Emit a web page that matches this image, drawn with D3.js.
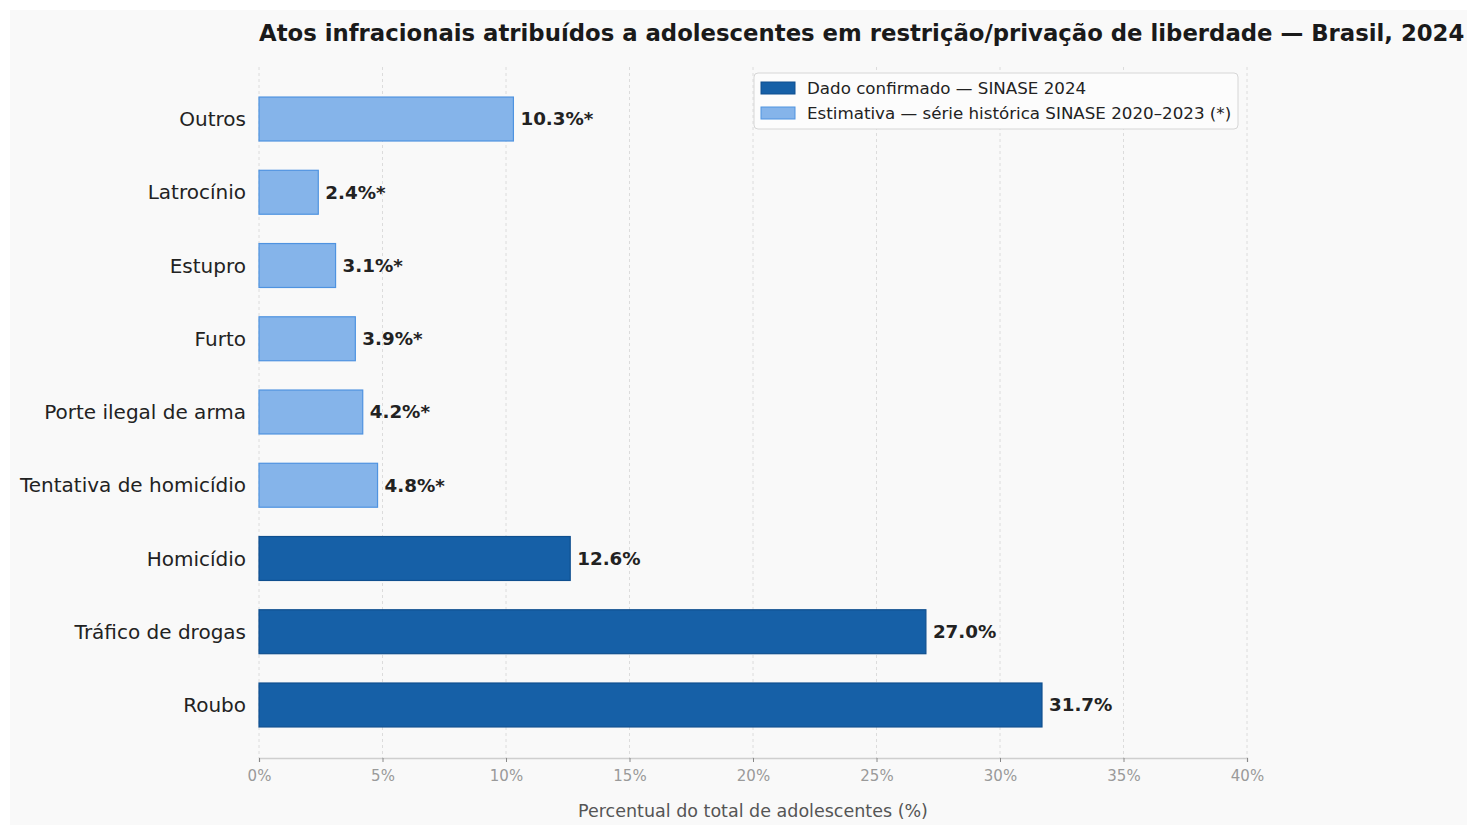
<!DOCTYPE html>
<html><head><meta charset="utf-8">
<script src="https://cdn.jsdelivr.net/npm/d3@7"></script>
<style>
html,body{margin:0;padding:0;background:#fff;}
svg{display:block;font-family:"DejaVu Sans",sans-serif;}
</style></head>
<body><svg id="c" width="1467" height="825"></svg>
<script>
const categories = ["Roubo","Tráfico de drogas","Homicídio","Tentativa de homicídio","Porte ilegal de arma","Furto","Estupro","Latrocínio","Outros"];
const values = [31.7, 27.0, 12.6, 4.8, 4.2, 3.9, 3.1, 2.4, 10.3];
const confirmed = [true, true, true, false, false, false, false, false, false];
const xTicks = [0,5,10,15,20,25,30,35,40];
const title = "Atos infracionais atribuídos a adolescentes em restrição/privação de liberdade — Brasil, 2024";
const xLabel = "Percentual do total de adolescentes (%)";
const legendLabels = ["Dado confirmado — SINASE 2024","Estimativa — série histórica SINASE 2020–2023 (*)"];

const svg = d3.select("#c");
svg.append("rect").attr("x",10).attr("y",10).attr("width",1457).attr("height",815).attr("fill","#f9f9f9");

const x = d3.scaleLinear().domain([0,40]).range([259,1247]);
const y = d3.scaleBand().domain(categories.slice().reverse()).range([82.4,741.6]).paddingInner(0.4).paddingOuter(0.2);
const plotTop = 67, plotBottom = 758;

const colors = {dark:"#1660a7", darkEdge:"#0f4f8f", light:"#85b4ea", lightEdge:"#4f93e0"};

function fit(sel, target){
  const fs = parseFloat(sel.style("font-size"));
  const w = sel.node().getComputedTextLength();
  sel.style("font-size",(fs*target/w).toFixed(2)+"px");
}

// grid
svg.append("g").selectAll("line").data(xTicks).join("line")
  .attr("x1",d=>x(d)).attr("x2",d=>x(d)).attr("y1",plotTop).attr("y2",plotBottom)
  .attr("stroke","#dcdcdc").attr("stroke-width",1).attr("stroke-dasharray","3,3");

// axis
const ax = svg.append("g").attr("transform",`translate(0,${plotBottom})`)
  .call(d3.axisBottom(x).tickValues(xTicks).tickFormat(d=>d+"%").tickSize(4).tickPadding(8));
ax.select(".domain").attr("stroke","#cfcfcf").attr("stroke-width",1.5);
ax.selectAll(".tick line").attr("stroke","#888");
ax.selectAll(".tick text").attr("fill","#9a9a9a").style("font-size","15px").style("font-family","DejaVu Sans");

// bars
const data = categories.map((c,i)=>({c, v:values[i], conf:confirmed[i]}));
svg.append("g").selectAll("rect").data(data).join("rect")
  .attr("x",x(0)).attr("y",d=>y(d.c)).attr("width",d=>x(d.v)-x(0)).attr("height",y.bandwidth())
  .attr("fill",d=>d.conf?colors.dark:colors.light)
  .attr("stroke",d=>d.conf?colors.darkEdge:colors.lightEdge).attr("stroke-width",1.2);

// value labels
svg.append("g").selectAll("text").data(data).join("text")
  .attr("x",d=>x(d.v)+7).attr("y",d=>y(d.c)+y.bandwidth()/2).attr("dy","0.35em")
  .attr("fill","#222").style("font-size","18.3px").style("font-weight","bold")
  .text(d=>d.v.toFixed(1)+"%"+(d.conf?"":"*"));

// category labels
svg.append("g").selectAll("text").data(data).join("text")
  .attr("x",246).attr("y",d=>y(d.c)+y.bandwidth()/2).attr("dy","0.36em")
  .attr("text-anchor","end").attr("fill","#222").style("font-size","20px")
  .text(d=>d.c);

// title
const t = svg.append("text").attr("x",259).attr("y",41).attr("fill","#1a1a1a")
  .style("font-size","21px").style("font-weight","bold").text(title);
fit(t,1206);

// x label
const xl = svg.append("text").attr("x",753).attr("y",817).attr("text-anchor","middle")
  .attr("fill","#555").style("font-size","17px").text(xLabel);
fit(xl,350);

// legend
const lg = svg.append("g");
lg.append("rect").attr("x",754).attr("y",73).attr("width",484).attr("height",56).attr("rx",4)
  .attr("fill","#fcfcfc").attr("stroke","#d6d6d6").attr("stroke-width",1);
[[colors.dark,colors.darkEdge],[colors.light,colors.lightEdge]].forEach((c,i)=>{
  lg.append("rect").attr("x",761).attr("y",82+i*25).attr("width",34).attr("height",12)
    .attr("fill",c[0]).attr("stroke",c[1]).attr("stroke-width",1);
  lg.append("text").attr("x",807).attr("y",88+i*25).attr("dy","0.36em").attr("fill","#222")
    .style("font-size","16.7px").text(legendLabels[i]);
});
</script></body></html>
